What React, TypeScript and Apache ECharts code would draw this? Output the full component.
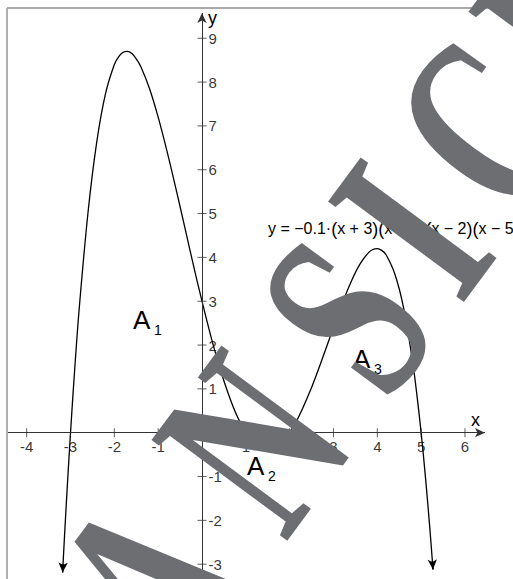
import React, { useEffect, useRef } from 'react';
import * as echarts from 'echarts';

// Curve samples read from the plotted function y = -0.1(x+3)(x-1)(x-2)(x-5)
const curveX = [-3.18, -3.17, -3.1, -3.0, -2.9, -2.8, -2.6, -2.4, -2.2, -2.0, -1.9, -1.8, -1.7, -1.6, -1.5, -1.4, -1.2, -1.0, -0.8, -0.6, -0.4, -0.2, 0, 0.2, 0.4, 0.6, 0.8, 1.0, 1.2, 1.4, 1.5, 1.6, 1.8, 2.0, 2.2, 2.4, 2.6, 2.8, 3.0, 3.2, 3.4, 3.6, 3.8, 3.9, 4.0, 4.1, 4.2, 4.4, 4.6, 4.8, 4.9, 5.0, 5.1, 5.2, 5.26, 5.27];
const curveY = [-3.19, -2.99, -1.69, 0, 1.51, 2.85, 5.03, 6.64, 7.74, 8.4, 8.58, 8.68, 8.7, 8.65, 8.53, 8.36, 7.86, 7.2, 6.43, 5.59, 4.72, 3.84, 3, 2.21, 1.5, 0.89, 0.38, 0, -0.26, -0.38, -0.39, -0.38, -0.25, 0, 0.35, 0.79, 1.29, 1.84, 2.4, 2.95, 3.44, 3.84, 4.11, 4.18, 4.2, 4.16, 4.06, 3.62, 2.85, 1.66, 0.89, 0, -1.03, -2.2, -2.98, -3.12];

const xTicks = [-4, -3, -2, -1, 1, 2, 3, 4, 5, 6];
const yTicks = [-3, -2, -1, 1, 2, 3, 4, 5, 6, 7, 8, 9];

// visible window of the coordinate system
const xMin = -4.449;
const xMax = 7.096;
const yMin = -3.338;
const yMax = 9.576;
const xAxisEnd = 6.457;

const formula = '{a|y = −0.1·}{p|(}{a|x + 3}{p|)}{p|(}{a|x − 1}{p|)}{p|(}{a|x − 2}{p|)}{p|(}{a|x − 5}{p|)}';
const areaNames = ['A', 'A', 'A'];
const areaSubs = ['1', '2', '3'];
const watermarkLetters = ['A', 'N', 'S', 'I', 'C', 'H'];

const SANS = '"Liberation Sans", Arial, sans-serif';
const SERIF = '"Liberation Serif", "Times New Roman", serif';

export default function App() {
  const ref = useRef<HTMLDivElement>(null);
  useEffect(() => {
    if (!ref.current) return;
    const chart = echarts.init(ref.current, undefined, { renderer: 'svg' });
    const curve = curveX.map((x, i) => [x, curveY[i]]);
    const n = curve.length;
    const areaPos = [
      [133, 333],
      [247, 479],
      [353, 372],
    ];
    const graphics: any[] = [
      { type: 'line', shape: { x1: 7, y1: 8, x2: 513, y2: 8 }, style: { stroke: '#555', lineWidth: 1 }, z: 50 },
      { type: 'line', shape: { x1: 7, y1: 8, x2: 7, y2: 579 }, style: { stroke: '#b0b0b0', lineWidth: 2 }, z: 50 },
      {
        type: 'text', x: 471, y: 420, z: 50,
        style: { text: 'x', fontSize: 18, fontFamily: SANS, fill: '#000', align: 'left', verticalAlign: 'middle' },
      },
      {
        type: 'text', x: 208, y: 18, z: 50,
        style: { text: 'y', fontSize: 18, fontFamily: SANS, fill: '#000', align: 'left', verticalAlign: 'middle' },
      },
      {
        type: 'text', x: 268, y: 228.5, z: 50,
        style: {
          text: formula, fill: '#000', align: 'left', verticalAlign: 'middle',
          rich: {
            a: { fontSize: 16, fontFamily: SANS, fill: '#000' },
            p: { fontSize: 18, fontFamily: SANS, fill: '#000', fontWeight: 'lighter' },
          },
        },
      },
    ];
    areaNames.forEach((nm, i) => {
      const [px, py] = areaPos[i];
      graphics.push({
        type: 'text', x: px, y: py, z: 50,
        style: { text: nm, fontSize: 26, fontFamily: SANS, fill: '#000', align: 'left', verticalAlign: 'bottom' },
      });
      graphics.push({
        type: 'text', x: px + 21, y: py + 4, z: 50,
        style: { text: areaSubs[i], fontSize: 14, fontFamily: SANS, fill: '#000', align: 'left', verticalAlign: 'bottom' },
      });
    });
    // watermark letters laid out along a rotated baseline through the "I"
    const theta = (53.5 * Math.PI) / 180;
    const cx = 410;
    const cy = 228;
    const offsets = [-440, -266, -109, 0, 128, 272];
    watermarkLetters.forEach((ch, i) => {
      const d = offsets[i];
      graphics.push({
        type: 'text', x: cx + d * Math.cos(theta), y: cy - d * Math.sin(theta), z: 100,
        rotation: theta, scaleX: 0.66, scaleY: 1,
        style: { text: ch, fontSize: 258, fontWeight: 'bold', fontFamily: SERIF, fill: '#6d6e71', align: 'center', verticalAlign: 'middle' },
      });
    });

    chart.setOption({
      animation: false,
      backgroundColor: '#fff',
      grid: { left: 7, top: 13, width: 506, height: 566 },
      xAxis: { type: 'value', min: xMin, max: xMax, show: false },
      yAxis: { type: 'value', min: yMin, max: yMax, show: false },
      series: [
        {
          type: 'scatter',
          data: xTicks.map((v) => [v, 0]),
          symbol: 'rect',
          symbolSize: [1, 9],
          itemStyle: { color: '#333' },
          silent: true,
          label: {
            show: true, position: 'bottom', distance: 2, formatter: (p: any) => String(p.value[0]),
            fontSize: 15, fontFamily: SANS, color: '#000',
          },
          markLine: {
            silent: true,
            symbol: ['none', 'arrow'],
            symbolSize: [7, 10],
            label: { show: false },
            lineStyle: { color: '#333', width: 1, type: 'solid' },
            data: [
              [{ coord: [xMin, 0] }, { coord: [xAxisEnd, 0] }],
              [{ coord: [0, yMin] }, { coord: [0, yMax] }],
            ],
          },
        },
        {
          type: 'scatter',
          data: yTicks.map((v) => [0, v]),
          symbol: 'rect',
          symbolSize: [9, 1],
          itemStyle: { color: '#333' },
          silent: true,
          label: {
            show: true, position: 'right', distance: 2, formatter: (p: any) => String(p.value[1]),
            fontSize: 15, fontFamily: SANS, color: '#000',
          },
        },
        {
          type: 'line',
          data: curve,
          showSymbol: false,
          smooth: 0.35,
          silent: true,
          lineStyle: { color: '#000', width: 1.3 },
          markLine: {
            silent: true,
            symbol: ['none', 'arrow'],
            symbolSize: [7, 10],
            label: { show: false },
            lineStyle: { color: '#000', width: 1.3, type: 'solid' },
            data: [
              [{ coord: curve[1] }, { coord: curve[0] }],
              [{ coord: curve[n - 2] }, { coord: curve[n - 1] }],
            ],
          },
        },
      ],
      graphic: graphics,
    });
    return () => chart.dispose();
  }, []);
  return <div ref={ref} style={{ position: 'absolute', left: 0, top: 0, width: 513, height: 579 }} />;
}
